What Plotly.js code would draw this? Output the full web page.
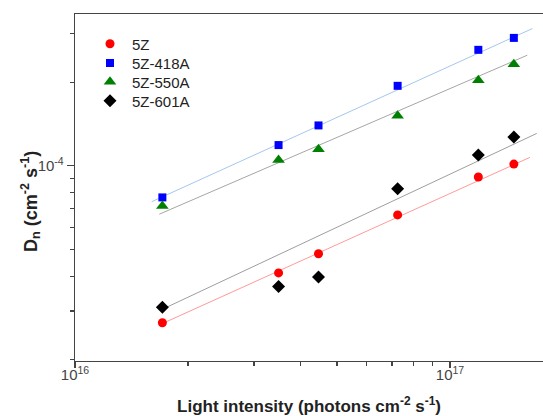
<!DOCTYPE html>
<html>
<head>
<meta charset="utf-8">
<script src="https://cdn.plot.ly/plotly-3.0.1.min.js"></script>
<style>html,body{margin:0;padding:0;background:#fff;}#chart{width:543px;height:416px;}</style>
</head>
<body>
<div id="chart"></div>
<script>
// Light intensity (photons cm^-2 s^-1)
const intensity = [1.71e16, 3.49e16, 4.46e16, 7.25e16, 1.19e17, 1.48e17];

// D_n (cm^-2 s^-1) per sample
const seriesNames = ["5Z", "5Z-418A", "5Z-550A", "5Z-601A"];
const dn5Z    = [2.72e-5, 4.11e-5, 4.82e-5, 6.65e-5, 9.11e-5, 1.014e-4];
const dn418A  = [7.69e-5, 1.187e-4, 1.397e-4, 1.94e-4, 2.615e-4, 2.887e-4];
const dn550A  = [7.16e-5, 1.048e-4, 1.146e-4, 1.513e-4, 2.033e-4, 2.32e-4];
const dn601A  = [3.09e-5, 3.67e-5, 3.97e-5, 8.27e-5, 1.093e-4, 1.268e-4];

// Linear fit lines (log-log), end points
const fitX5Z   = [1.696e16, 1.634e17];
const fitY5Z   = [2.688e-5, 1.072e-4];
const fitX418A = [1.601e16, 1.658e17];
const fitY418A = [7.42e-5, 3.119e-4];
const fitX550A = [1.678e16, 1.607e17];
const fitY550A = [6.69e-5, 2.501e-4];
const fitX601A = [1.685e16, 1.703e17];
const fitY601A = [3.013e-5, 1.307e-4];

const xMajorTicks = [1e16, 1e17];
const xMajorText = ["10<sup>16</sup>", "10<sup>17</sup>"];
const xMinorTicks = [2e16, 3e16, 4e16, 5e16, 6e16, 7e16, 8e16, 9e16];
const yMajorTicks = [1e-4];
const yMajorText = ["10<sup>-4</sup>"];
const yMinorTicks = [2e-5, 3e-5, 4e-5, 5e-5, 6e-5, 7e-5, 8e-5, 9e-5, 2e-4, 3e-4];

const styles = [
  { data: dn5Z,   fx: fitX5Z,   fy: fitY5Z,   color: "#ff0000", symbol: "circle",      size: 9,  fitColor: "#ff9a9a" },
  { data: dn418A, fx: fitX418A, fy: fitY418A, color: "#0000ff", symbol: "square",      size: 8,  fitColor: "#a6c6ee" },
  { data: dn550A, fx: fitX550A, fy: fitY550A, color: "#008000", symbol: "triangle-up", size: 11, fitColor: "#a6a6a6" },
  { data: dn601A, fx: fitX601A, fy: fitY601A, color: "#000000", symbol: "diamond",     size: 10, fitColor: "#9e9e9e" }
];

// legend rows (pixel rows converted to paper y)
const legendRowsPx = [44, 63.3, 82, 101];

const traces = [];
styles.forEach((s) => {
  traces.push({
    x: s.fx, y: s.fy, mode: "lines", type: "scatter", showlegend: false,
    line: { color: s.fitColor, width: 1 }, hoverinfo: "skip"
  });
});
styles.forEach((s, i) => {
  traces.push({
    x: intensity, y: s.data, mode: "markers", type: "scatter", name: seriesNames[i],
    legend: i === 0 ? "legend" : "legend" + (i + 1),
    marker: { color: s.color, symbol: s.symbol, size: s.size, line: { width: 0 } }
  });
});

const plotTop = 14, plotH = 347, plotLeft = 75, plotW = 468;
function legendCfg(row) {
  return {
    x: (88 - plotLeft) / plotW, xanchor: "left",
    y: 1 - (row - plotTop) / plotH, yanchor: "middle",
    bgcolor: "rgba(0,0,0,0)", borderwidth: 0,
    font: { size: 15, color: "#222", family: "Liberation Sans, Arial, sans-serif" },
    itemsizing: "trace", itemwidth: 34
  };
}

const layout = {
  width: 543, height: 416,
  margin: { l: 75, r: 0, t: 14, b: 55 },
  paper_bgcolor: "#fff", plot_bgcolor: "#fff",
  font: { family: "Liberation Sans, Arial, sans-serif", color: "#222" },
  showlegend: true,
  legend: legendCfg(legendRowsPx[0]),
  legend2: legendCfg(legendRowsPx[1]),
  legend3: legendCfg(legendRowsPx[2]),
  legend4: legendCfg(legendRowsPx[3]),
  xaxis: {
    type: "log", range: [16, 17.248],
    showgrid: false, zeroline: false,
    showline: true, linecolor: "#444", linewidth: 1.3, mirror: true,
    ticks: "outside", ticklen: 6, tickwidth: 1.3, tickcolor: "#444",
    tickmode: "array", tickvals: xMajorTicks, ticktext: xMajorText,
    tickfont: { size: 15, color: "#444" }, ticklabelstandoff: -6,
    minor: { tickmode: "array", tickvals: xMinorTicks, ticks: "outside", ticklen: 4, tickwidth: 1.3, tickcolor: "#444", showgrid: false },
    title: { text: "<b>Light intensity (photons cm<sup>-2</sup> s<sup>-1</sup>)</b>", font: { size: 17, color: "#222" }, standoff: 18 }
  },
  yaxis: {
    type: "log", range: [Math.log10(1.98e-5), Math.log10(3.52e-4)],
    showgrid: false, zeroline: false,
    showline: true, linecolor: "#444", linewidth: 1.3, mirror: true,
    ticks: "outside", ticklen: 7, tickwidth: 1.3, tickcolor: "#444",
    tickmode: "array", tickvals: yMajorTicks, ticktext: yMajorText,
    tickfont: { size: 15, color: "#444" },
    minor: { tickmode: "array", tickvals: yMinorTicks, ticks: "outside", ticklen: 4, tickwidth: 1.3, tickcolor: "#444", showgrid: false }
  },
  annotations: [{
    text: "<b>D<sub>n</sub> (cm<sup>-2</sup> s<sup>-1</sup>)</b>",
    textangle: -90, xref: "paper", yref: "paper",
    x: (31 - plotLeft) / plotW, y: 1 - (202 - plotTop) / plotH,
    xanchor: "center", yanchor: "middle", showarrow: false,
    font: { size: 18, color: "#222" }
  }]
};

Plotly.newPlot("chart", traces, layout, { staticPlot: true, displayModeBar: false });
</script>
</body>
</html>
